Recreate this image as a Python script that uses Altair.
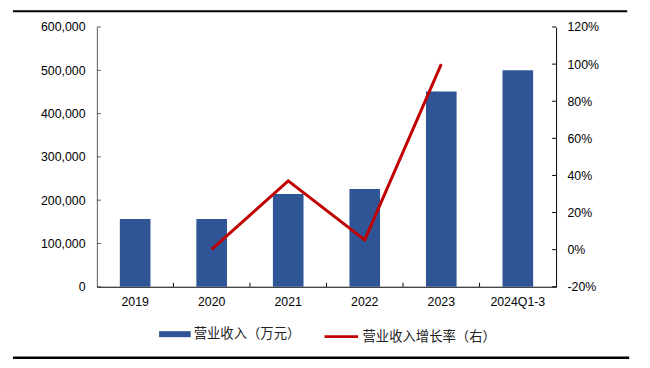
import altair as alt
import pandas as pd

categories = ["2019", "2020", "2021", "2022", "2023", "2024Q1-3"]
revenue = [156300, 156500, 214300, 225600, 451200, 500400]
growth = [None, 0.1, 37.1, 5.3, 100.0, None]
left_ticks = [0, 100000, 200000, 300000, 400000, 500000, 600000]
right_ticks = [-20, 0, 20, 40, 60, 80, 100, 120]

bar_name = "营业收入（万元）"
line_name = "营业收入增长率（右）"

df = pd.DataFrame({"cat": categories, "rev": revenue, "g": growth,
                   "s_bar": bar_name, "s_line": line_name})
df_line = df.dropna(subset=["g"])
df_lt = pd.DataFrame({"rev": left_ticks})
df_rt = pd.DataFrame({"g": right_ticks})
df_xt = pd.DataFrame({"cat": categories[1:]})
df_one = pd.DataFrame({"a": [0]})

W, H = 465, 263
FONT = "Liberation Sans, Arial, Noto Sans CJK SC"
CJK = "'Noto Sans CJK SC', sans-serif"
BAR_C = "#2F5597"
LINE_C = "#C00000"

xscale = alt.Scale(domain=categories, paddingInner=0, paddingOuter=0)
x_axis = alt.Axis(title=None, labelAngle=0, ticks=False, domainColor="black",
                  labelPadding=9)
x_enc = alt.X("cat:N", scale=xscale, sort=categories, axis=x_axis)

y_left = alt.Y("rev:Q", scale=alt.Scale(domain=[0, 600000], nice=False),
               axis=alt.Axis(title=None, values=left_ticks, format=",d", grid=False,
                             ticks=False, domainColor="#595959", labelPadding=12))
y_right = alt.Y("g:Q", scale=alt.Scale(domain=[-20, 120], nice=False),
                axis=alt.Axis(title=None, orient="right", values=right_ticks,
                              labelExpr="datum.value + '%'", grid=False, ticks=False,
                              domainColor="black", labelPadding=11))

bars = alt.Chart(df).mark_bar(width=alt.RelativeBandSize(0.4)).encode(
    x=x_enc,
    y=y_left,
    color=alt.Color("s_bar:N", scale=alt.Scale(domain=[bar_name], range=[BAR_C]),
                    legend=alt.Legend(title=None, orient="none", legendX=63, legendY=295,
                                      symbolType="M-1,-0.19H1V0.19H-1Z", symbolSize=1024,
                                      symbolStrokeWidth=0, labelOffset=3)),
)

lticks = alt.Chart(df_lt).mark_rule(color="#595959").encode(
    y=y_left, x=alt.value(0), x2=alt.value(4))

xticks = alt.Chart(df_xt).mark_rule(color="black").encode(
    x=alt.X("cat:N", scale=xscale, sort=categories, axis=x_axis, bandPosition=0),
    y=alt.value(H), y2=alt.value(H - 4))

top_rule = alt.Chart(df_one).mark_rule(color="black", strokeWidth=2).encode(
    x=alt.value(-85), x2=alt.value(537), y=alt.value(-16))
bottom_rule = alt.Chart(df_one).mark_rule(color="black", strokeWidth=2.5).encode(
    x=alt.value(-85), x2=alt.value(539), y=alt.value(335))

line = alt.Chart(df_line).mark_line(strokeWidth=3).encode(
    x=x_enc,
    y=y_right,
    stroke=alt.Stroke("s_line:N", scale=alt.Scale(domain=[line_name], range=[LINE_C]),
                      legend=alt.Legend(title=None, orient="none", legendX=229, legendY=295,
                                        symbolType="stroke", symbolSize=1156,
                                        symbolStrokeWidth=3, labelOffset=3)),
)

rticks = alt.Chart(df_rt).mark_rule(color="black").encode(
    y=y_right, x=alt.value(W), x2=alt.value(W - 4))

left = alt.layer(bars, lticks, xticks, top_rule)
right = alt.layer(line, rticks)

chart = alt.layer(left, right, bottom_rule).resolve_scale(
    y="independent"
).properties(
    width=W, height=H,
    padding={"left": 90, "top": 17, "right": 87, "bottom": 80},
    autosize="none",
).configure_view(stroke=None).configure_axis(
    labelFont=FONT, labelFontSize=12.5, labelColor="black", domainWidth=1
).configure_legend(
    labelFont=CJK, labelFontSize=13.5, labelColor="#222"
)

chart.save("out.html", embed_options={"renderer": "svg", "actions": False})
